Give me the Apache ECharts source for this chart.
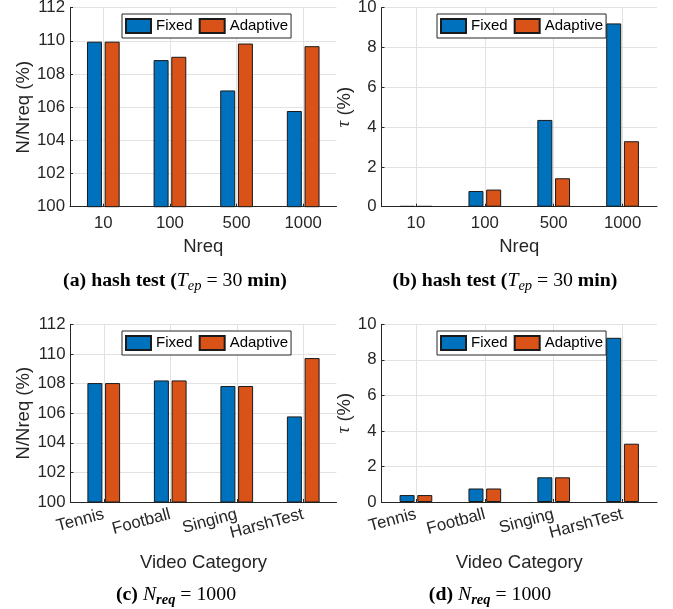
<!DOCTYPE html>
<html><head><meta charset="utf-8">
<script src="https://cdn.jsdelivr.net/npm/echarts@6/dist/echarts.min.js"></script>
<style>html,body{margin:0;padding:0;background:#fff}#c{width:673px;height:609px}</style>
</head><body><div id="c"></div>
<script>
// ---- data ----
const seriesNames = ['Fixed', 'Adaptive'];
const catsNreq = ['10', '100', '500', '1000'];
const catsVideo = ['Tennis', 'Football', 'Singing', 'HarshTest'];
const fixedA = [109.95, 108.84, 107.01, 105.77];
const adaptiveA = [109.95, 109.04, 109.84, 109.68];
const fixedB = [0.03, 0.79, 4.36, 9.21];
const adaptiveB = [0.03, 0.86, 1.43, 3.29];
const fixedC = [108.03, 108.21, 107.83, 105.78];
const adaptiveC = [108.03, 108.21, 107.83, 109.72];
const fixedD = [0.39, 0.76, 1.39, 9.24];
const adaptiveD = [0.39, 0.76, 1.39, 3.28];
const ticksRatio = [100, 112, 2];
const ticksTau = [0, 10, 2];

// ---- styling ----
const SANS = '"Liberation Sans", Arial, Helvetica, sans-serif';
const SERIF = '"Liberation Serif", "Times New Roman", serif';
const TXT = '#262626';
const GRID = '#e2e2e2';
const BLUE = '#0072BD';
const ORANGE = '#D95319';

const grids = [
  {left: 70, top: 7.7, width: 266.5, height: 199},
  {left: 381.5, top: 7.7, width: 275.5, height: 199},
  {left: 70.5, top: 324.3, width: 266, height: 177.7},
  {left: 381.5, top: 324.3, width: 275.5, height: 177.7}
].map(g => Object.assign({containLabel: false, outerBoundsMode: 'none'}, g));

function xAxis(i, cats, name, rotate, gap, margin) {
  return {
    type: 'category', gridIndex: i, data: cats,
    axisLine: {lineStyle: {color: TXT, width: 1}},
    axisTick: {show: true, inside: true, length: 3, alignWithLabel: true, lineStyle: {color: TXT}},
    splitLine: {show: true, alignWithLabel: true, lineStyle: {color: GRID, width: 1}},
    axisLabel: {fontFamily: SANS, fontSize: 16.8, color: TXT, margin: margin, interval: 0, rotate: rotate},
    name: name, nameLocation: 'middle', nameGap: gap,
    nameTextStyle: {fontFamily: SANS, fontSize: 18.5, color: TXT}
  };
}
function yAxis(i, t, name, gap) {
  return {
    type: 'value', gridIndex: i, min: t[0], max: t[1], interval: t[2],
    axisLine: {show: true, lineStyle: {color: TXT, width: 1}},
    axisTick: {show: true, inside: true, length: 3, lineStyle: {color: TXT}},
    splitLine: {show: true, lineStyle: {color: GRID, width: 1}},
    axisLabel: {fontFamily: SANS, fontSize: 16.8, color: TXT, margin: 5},
    name: name, nameLocation: 'middle', nameGap: gap,
    nameTextStyle: {fontFamily: SANS, fontSize: 18.5, color: TXT,
      rich: {t: {fontFamily: SERIF, fontStyle: 'italic', fontSize: 19, color: TXT}}}
  };
}
function bar(name, data, i, color) {
  return {
    type: 'bar', name: name, data: data, xAxisIndex: i, yAxisIndex: i,
    barWidth: 15, barGap: '18%',
    itemStyle: {color: color, borderColor: '#1a1a1a', borderWidth: 1},
    emphasis: {disabled: true}
  };
}
function legend(left, top) {
  return {
    data: seriesNames, left: left, top: top, orient: 'horizontal',
    icon: 'rect', itemWidth: 25, itemHeight: 14, itemGap: 6,
    padding: [4, 3], borderColor: TXT, borderWidth: 1, backgroundColor: '#fff',
    selectedMode: false,
    textStyle: {fontFamily: SANS, fontSize: 15, color: '#000'}
  };
}
const capRich = {
  b: {fontFamily: SERIF, fontWeight: 'bold', fontSize: 19.8, color: '#111'},
  r: {fontFamily: SERIF, fontSize: 19.8, color: '#111'},
  i: {fontFamily: SERIF, fontStyle: 'italic', fontSize: 19.8, color: '#111'},
  s: {fontFamily: SERIF, fontStyle: 'italic', fontSize: 14.5, color: '#111', padding: [10, 0, 0, 0]},
  sb: {fontFamily: SERIF, fontStyle: 'italic', fontWeight: 'bold', fontSize: 14.5, color: '#111', padding: [10, 0, 0, 0]}
};
function caption(x, y, text) {
  return {type: 'text', x: x, y: y, silent: true,
    style: {text: text, textAlign: 'center', textVerticalAlign: 'middle', rich: capRich}};
}

const option = {
  animation: false,
  backgroundColor: '#fff',
  grid: grids,
  xAxis: [
    xAxis(0, catsNreq, 'Nreq', 0, 31, 8),
    xAxis(1, catsNreq, 'Nreq', 0, 31, 8),
    xAxis(2, catsVideo, 'Video Category', 15, 51, 12),
    xAxis(3, catsVideo, 'Video Category', 15, 51, 12)
  ],
  yAxis: [
    yAxis(0, ticksRatio, 'N/Nreq (%)', 33),
    yAxis(1, ticksTau, '{t|τ} (%)', 27),
    yAxis(2, ticksRatio, 'N/Nreq (%)', 33),
    yAxis(3, ticksTau, '{t|τ} (%)', 27)
  ],
  legend: [legend(122, 14), legend(437, 14), legend(122, 331), legend(437, 331)],
  series: [
    bar(seriesNames[0], fixedA, 0, BLUE), bar(seriesNames[1], adaptiveA, 0, ORANGE),
    bar(seriesNames[0], fixedB, 1, BLUE), bar(seriesNames[1], adaptiveB, 1, ORANGE),
    bar(seriesNames[0], fixedC, 2, BLUE), bar(seriesNames[1], adaptiveC, 2, ORANGE),
    bar(seriesNames[0], fixedD, 3, BLUE), bar(seriesNames[1], adaptiveD, 3, ORANGE)
  ],
  graphic: [
    caption(175, 281, '{b|(a) hash test (}{i|T}{s|ep}{r| = 30 }{b|min)}'),
    caption(505, 281, '{b|(b) hash test (}{i|T}{s|ep}{r| = 30 }{b|min)}'),
    caption(176, 595, '{b|(c) }{i|N}{sb|req}{r| = 1000}'),
    caption(490, 595, '{b|(d) }{i|N}{sb|req}{r| = 1000}')
  ]
};
const chart = echarts.init(document.getElementById('c'), null, {renderer: 'canvas'});
chart.setOption(option);
</script></body></html>
